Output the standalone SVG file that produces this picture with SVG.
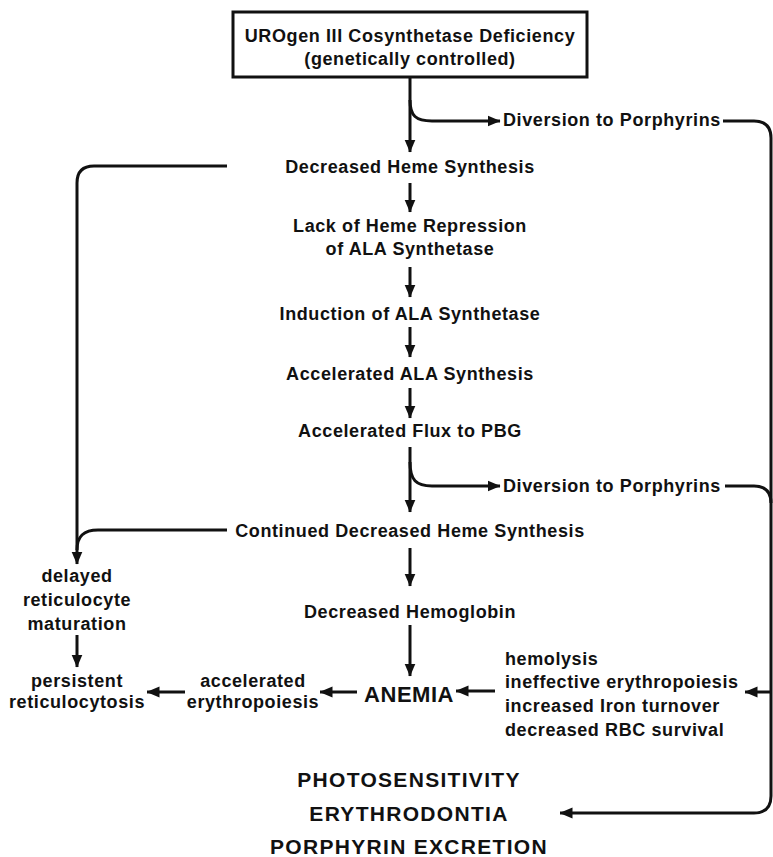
<svg xmlns="http://www.w3.org/2000/svg" width="773" height="857" viewBox="0 0 773 857">
<defs>
<style>
text{font-family:"Liberation Sans",Arial,sans-serif;font-weight:bold;font-size:18px;letter-spacing:0.6px;fill:#111;}
.c{text-anchor:middle;}
.big{font-size:21px;letter-spacing:1.3px;}
.an{font-size:22px;letter-spacing:0.5px;}
.ln{fill:none;stroke:#111;stroke-width:3;}
</style>
<marker id="ah" markerUnits="userSpaceOnUse" markerWidth="13" markerHeight="12" viewBox="0 0 13 12" refX="12.5" refY="6" orient="auto">
<path d="M0,0.5 L13,6 L0,11.5 Z" fill="#111"/>
</marker>
</defs>
<rect width="773" height="857" fill="#fff"/>
<g id="connectors">
<path class="ln" d="M410,77 V152" marker-end="url(#ah)"/>
<path class="ln" d="M410,100 C410,116 416,121 432,121 H500" marker-end="url(#ah)"/>
<path class="ln" d="M723,121 H754 Q771,121 771,138 V796 Q771,813 754,813 H560" marker-end="url(#ah)"/>
<path class="ln" d="M725,486 H754 Q771,486 771,503"/>
<path class="ln" d="M771,692 H745" marker-end="url(#ah)"/>
<path class="ln" d="M227,166 H94 Q77,166 77,183 V564" marker-end="url(#ah)"/>
<path class="ln" d="M227,530 H98 C84,530 77,536 77,550"/>
<path class="ln" d="M410,183 V212" marker-end="url(#ah)"/>
<path class="ln" d="M410,267 V297" marker-end="url(#ah)"/>
<path class="ln" d="M410,327 V357" marker-end="url(#ah)"/>
<path class="ln" d="M410,388 V418" marker-end="url(#ah)"/>
<path class="ln" d="M410,447 V512" marker-end="url(#ah)"/>
<path class="ln" d="M410,462 C410,480 416,486 432,486 H500" marker-end="url(#ah)"/>
<path class="ln" d="M410,548 V586" marker-end="url(#ah)"/>
<path class="ln" d="M410,625 V676" marker-end="url(#ah)"/>
<path class="ln" d="M495,691 H456" marker-end="url(#ah)"/>
<path class="ln" d="M357,692 H320" marker-end="url(#ah)"/>
<path class="ln" d="M185,692 H147" marker-end="url(#ah)"/>
<path class="ln" d="M77,635 V667" marker-end="url(#ah)"/>
</g>
<g id="n-deficiency">
<rect x="233" y="12" width="354" height="65" fill="#fff" stroke="#111" stroke-width="3"/>
<text class="c" x="410" y="42">UROgen III Cosynthetase Deficiency</text>
<text class="c" x="410" y="65">(genetically controlled)</text>
</g>
<g id="n-div1"><text x="503" y="126">Diversion to Porphyrins</text></g>
<g id="n-dec-heme"><text class="c" x="410" y="173">Decreased Heme Synthesis</text></g>
<g id="n-lack"><text class="c" x="410" y="232">Lack of Heme Repression</text><text class="c" x="410" y="255">of ALA Synthetase</text></g>
<g id="n-induction"><text class="c" x="410" y="320">Induction of ALA Synthetase</text></g>
<g id="n-acc-ala"><text class="c" x="410" y="380">Accelerated ALA Synthesis</text></g>
<g id="n-flux"><text class="c" x="410" y="437">Accelerated Flux to PBG</text></g>
<g id="n-div2"><text x="503" y="492">Diversion to Porphyrins</text></g>
<g id="n-cont"><text class="c" x="410" y="537">Continued Decreased Heme Synthesis</text></g>
<g id="n-hgb"><text class="c" x="410" y="618">Decreased Hemoglobin</text></g>
<g id="n-anemia"><text class="c an" x="409" y="702">ANEMIA</text></g>
<g id="n-causes">
<text x="505" y="665">hemolysis</text>
<text x="505" y="688">ineffective erythropoiesis</text>
<text x="505" y="712">increased Iron turnover</text>
<text x="505" y="736">decreased RBC survival</text>
</g>
<g id="n-acc-ery"><text class="c" x="253" y="687">accelerated</text><text class="c" x="253" y="708">erythropoiesis</text></g>
<g id="n-persist"><text class="c" x="77" y="687">persistent</text><text class="c" x="77" y="708">reticulocytosis</text></g>
<g id="n-delayed"><text class="c" x="77" y="582">delayed</text><text class="c" x="77" y="606">reticulocyte</text><text class="c" x="77" y="630">maturation</text></g>
<g id="n-outcomes">
<text class="c big" x="409" y="787">PHOTOSENSITIVITY</text>
<text class="c big" x="409" y="821">ERYTHRODONTIA</text>
<text class="c big" x="409" y="854">PORPHYRIN EXCRETION</text>
</g>
</svg>
